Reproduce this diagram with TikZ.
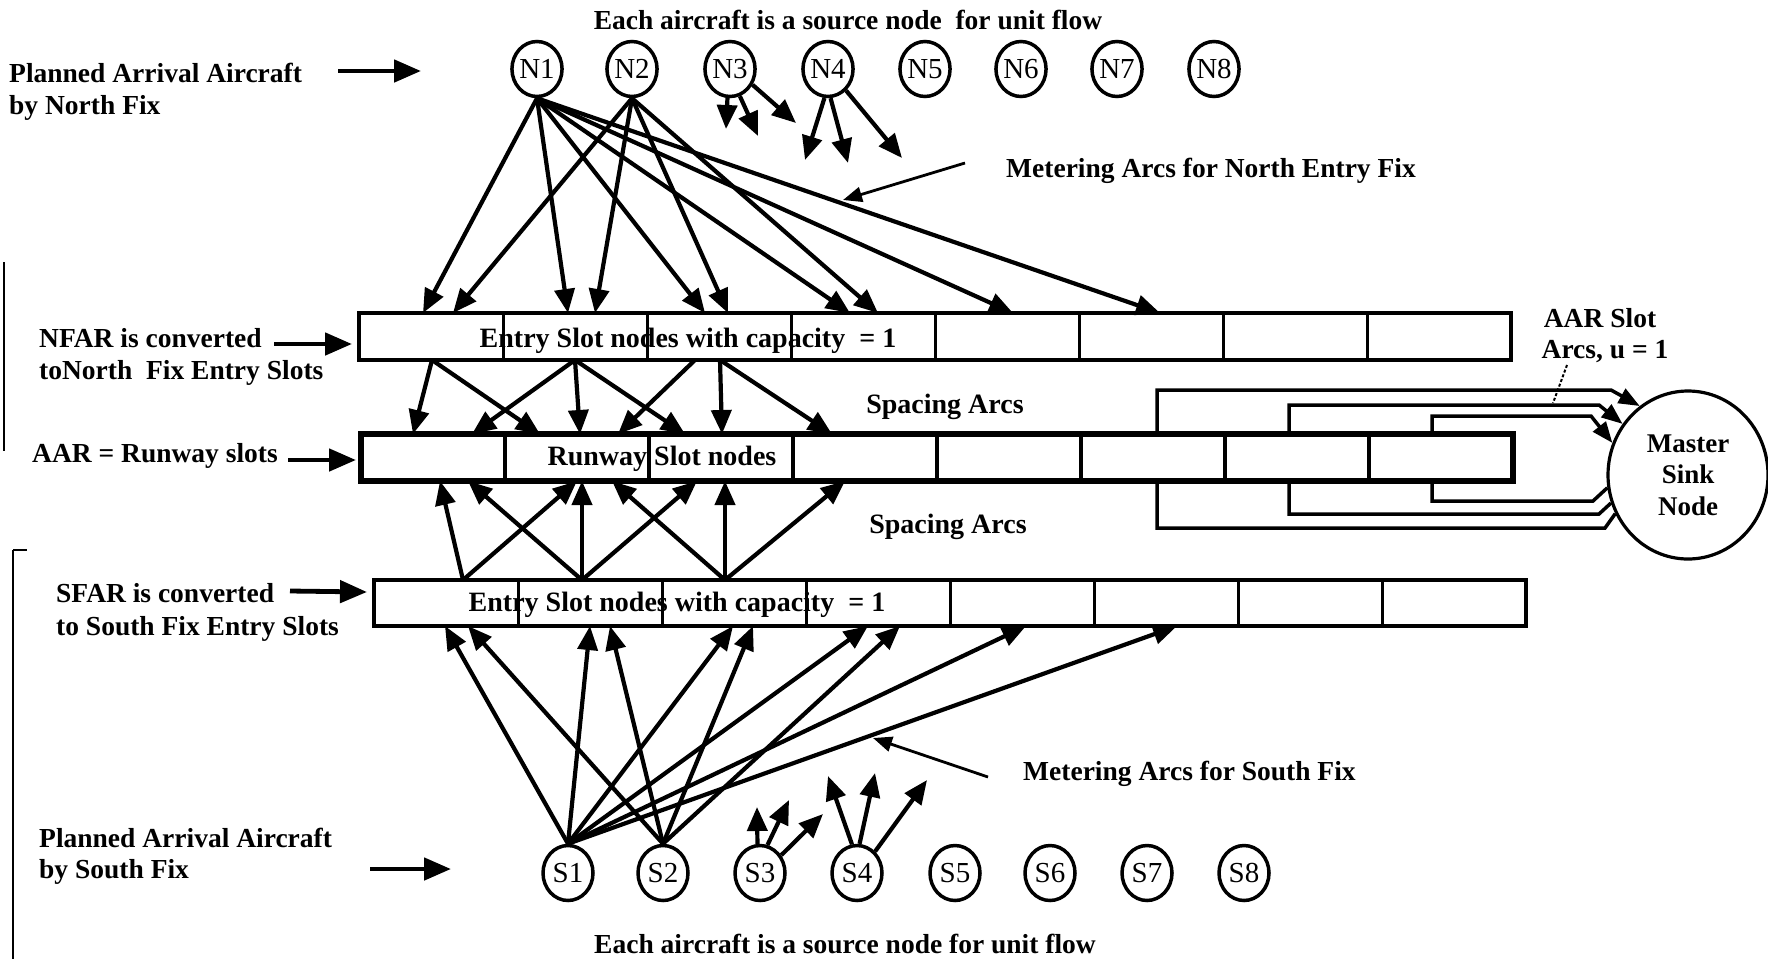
\documentclass[tikz,border=0pt]{standalone}
\usepackage{fontspec}
\setmainfont{Liberation Serif}
\usetikzlibrary{arrows.meta,shapes.geometric,calc}
\begin{document}
\begin{tikzpicture}[x=1pt,y=-1pt,
  lab/.style={anchor=base west, inner sep=0pt, font=\bfseries\fontsize{27.5}{32}\selectfont},
  labc/.style={anchor=base, inner sep=0pt, font=\bfseries\fontsize{27.5}{32}\selectfont},
  boldc/.style={anchor=base, inner sep=0pt, font=\bfseries\fontsize{28}{32}\selectfont},
  craft/.style={ellipse, draw, line width=3.5pt, minimum width=50pt, minimum height=55pt, inner sep=0pt, font=\fontsize{29}{30}\selectfont},
  slotrow/.style={draw, fill=white, line width=3.6pt, minimum width=1152pt, minimum height=47pt, inner sep=0pt, outer sep=0pt},
  divider/.style={line width=3pt},
  flowarc/.style={line width=4.2pt, -{Triangle[length=24pt,width=20pt]}},
  sidearrow/.style={line width=4.8pt, -{Triangle[length=27pt,width=22pt]}},
  pointer/.style={line width=2.8pt, -{Triangle[length=19pt,width=15pt]}},
  aararc/.style={line width=3.5pt, -{Triangle[length=21pt,width=16pt]}},
  aarline/.style={line width=3.5pt},
  margin/.style={line width=2.5pt}
]
\useasboundingbox (0,0) rectangle (1768,959);
\fill[white] (0,0) rectangle (1768,959);

% ---------- aircraft nodes ----------
\foreach \i/\x in {1/537,2/632,3/730,4/828,5/925,6/1021,7/1117,8/1214}
  \node[craft] (N\i) at (\x,69) {N\i};
\foreach \i/\x in {1/568,2/663,3/760,4/857,5/955,6/1050,7/1147,8/1244}
  \node[craft] (S\i) at (\x,873) {S\i};

% ---------- sink ----------
\node[ellipse, draw, line width=3.2pt, minimum width=160pt, minimum height=168pt,
      inner sep=0pt, align=center, font=\bfseries\fontsize{27}{31.5}\selectfont] (sink) at (1688,475)
      {Master\\Sink\\Node};

% ---------- slot rows ----------
\node[slotrow] (nrow) at (935,336.5) {};
\node[slotrow, line width=5.8pt] (rrow) at (937,457.5) {};
\node[slotrow, minimum height=46pt] (srow) at (950,603) {};

\node[boldc] (ntext) at (688,347) {Entry Slot nodes with capacity~ = 1};
\node[boldc] (rtext) at (662,465) {Runway Slot nodes};
\node[boldc] (stext) at (677,611) {Entry Slot nodes with capacity~ = 1};

\foreach \k in {1,...,7}{
  \draw[divider] ([xshift={\k*144pt}]nrow.north west) -- ([xshift={\k*144pt}]nrow.south west);
  \draw[divider, line width=3.6pt] ([xshift={\k*144pt}]rrow.north west) -- ([xshift={\k*144pt}]rrow.south west);
  \draw[divider] ([xshift={\k*144pt}]srow.north west) -- ([xshift={\k*144pt}]srow.south west);
}

% ---------- AAR slot arcs to sink ----------
\draw[aararc]  ([xshift=796pt]rrow.north west) -- (1157,390) -- (1611,390) -- (sink.125.6);
\draw[aararc]  ([xshift=928pt]rrow.north west) -- (1289,405) -- (1599,405) -- (sink.142);
\draw[aararc]  ([xshift=1071pt]rrow.north west) -- (1432,416) -- (1591,416) -- (sink.157);
\draw[aarline] ([xshift=796pt]rrow.south west) -- (1157,528) -- (1605,528) -- (sink.208);
\draw[aarline] ([xshift=928pt]rrow.south west) -- (1289,514) -- (1599,514) -- (sink.200.5);
\draw[aarline] ([xshift=1071pt]rrow.south west) -- (1432,501) -- (1593,501) -- (sink.189);

% ---------- north metering arcs ----------
\foreach \t in {64,209,346,491,654,801}
  \draw[flowarc] (N1.south) -- ([xshift={\t pt}]nrow.north west);
\foreach \t in {94,236,369,519}
  \draw[flowarc] (N2.south) -- ([xshift={\t pt}]nrow.north west);

\coordinate (n3a) at (726,129);
\coordinate (n3b) at (758,136);
\coordinate (n3c) at (796,123);
\coordinate (n4a) at (805,160);
\coordinate (n4b) at (848,163);
\coordinate (n4c) at (902,158);
\draw[flowarc] (N3.-95) -- (n3a);
\draw[flowarc] (N3.-70) -- (n3b);
\draw[flowarc] (N3.-35) -- (n3c);
\draw[flowarc] (N4.-97) -- (n4a);
\draw[flowarc] (N4.-85) -- (n4b);
\draw[flowarc] (N4.-50) -- (n4c);

% ---------- south metering arcs ----------
\foreach \t in {71,216,359,494,652,803}
  \draw[flowarc] (S1.north) -- ([xshift={\t pt}]srow.south west);
\foreach \t in {94,236,379,526}
  \draw[flowarc] (S2.north) -- ([xshift={\t pt}]srow.south west);

\coordinate (s3a) at (757,807);
\coordinate (s3b) at (789,800);
\coordinate (s3c) at (823,814);
\coordinate (s4a) at (828,776);
\coordinate (s4b) at (875,773);
\coordinate (s4c) at (927,780);
\draw[flowarc] (S3.95) -- (s3a);
\draw[flowarc] (S3.75) -- (s3b);
\draw[flowarc] (S3.40) -- (s3c);
\draw[flowarc] (S4.100) -- (s4a);
\draw[flowarc] (S4.85) -- (s4b);
\draw[flowarc] (S4.50) -- (s4c);

% ---------- spacing arcs (north entry -> runway) ----------
\foreach \a/\b in {73/52,73/179,216/111,216/219,216/324,336/257,361/361,361/471}
  \draw[flowarc] ([xshift={\a pt}]nrow.south west) -- ([xshift={\b pt}]rrow.north west);

% ---------- spacing arcs (south entry -> runway) ----------
\foreach \a/\b in {89/79,89/216,208/107,208/221,208/336,351/251,351/364,351/484}
  \draw[flowarc] ([xshift={\a pt}]srow.north west) -- ([xshift={\b pt}]rrow.south west);

% ---------- labels ----------
\node[labc] (title) at (848,29) {Each aircraft is a source node~ for unit flow};
\node[lab] (pn1) at (9,82) {Planned Arrival Aircraft};
\node[lab] (pn2) at (9,114) {by North Fix};
\node[lab] (mn) at (1006,177) {Metering Arcs for North Entry Fix};
\node[lab] (nf1) at (39,347) {NFAR is converted};
\node[lab] (nf2) at (39,379) {toNorth~ Fix Entry Slots};
\node[lab] (aarl) at (32,462) {AAR = Runway slots};
\node[lab] (sf1) at (56,602) {SFAR is converted};
\node[lab] (sf2) at (56,635) {to South Fix Entry Slots};
\node[labc] (as1) at (1600,327) {AAR Slot};
\node[labc] (as2) at (1605,358) {Arcs, u = 1};
\node[boldc] (sp1) at (945,413) {Spacing Arcs};
\node[boldc] (sp2) at (948,533) {Spacing Arcs};
\node[lab] (ps1) at (39,847) {Planned Arrival Aircraft};
\node[lab] (ps2) at (39,878) {by South Fix};
\node[lab] (ms) at (1023,780) {Metering Arcs for South Fix};
\node[labc] (bt) at (845,953) {Each aircraft is a source node for unit flow};

% ---------- side arrows ----------
\coordinate (pnA) at (338,71);
\coordinate (pnB) at (421,71);
\draw[sidearrow] (pnA) -- (pnB);
\coordinate (psA) at (370,869);
\coordinate (psB) at (451,869);
\draw[sidearrow] (psA) -- (psB);
\coordinate (nfA) at (274,344);
\draw[sidearrow] (nfA) -- ([xshift=-7pt,yshift=-7.5pt]nrow.west);
\coordinate (arA) at (288,460);
\draw[sidearrow] (arA) -- ([xshift=-5pt,yshift=-2.5pt]rrow.west);
\coordinate (sfA) at (290,591);
\draw[sidearrow] (sfA) -- ([xshift=-7pt,yshift=11pt]srow.west);

% ---------- pointers ----------
\coordinate (mnA) at (965,163);
\coordinate (mnB) at (843,200);
\draw[pointer] (mnA) -- (mnB);
\coordinate (msA) at (988,777);
\coordinate (msB) at (873,738);
\draw[pointer] (msA) -- (msB);
\coordinate (asA) at (1567,365);
\coordinate (asB) at (1553,403);
\draw[line width=2pt, densely dashed] (asA) -- (asB);

% ---------- margin lines ----------
\draw[margin] (4,262) -- (4,451);
\draw[margin] (13,550) -- (13,959);
\draw[line width=1.2pt] (13,550) -- (27,550);
\end{tikzpicture}
\end{document}
